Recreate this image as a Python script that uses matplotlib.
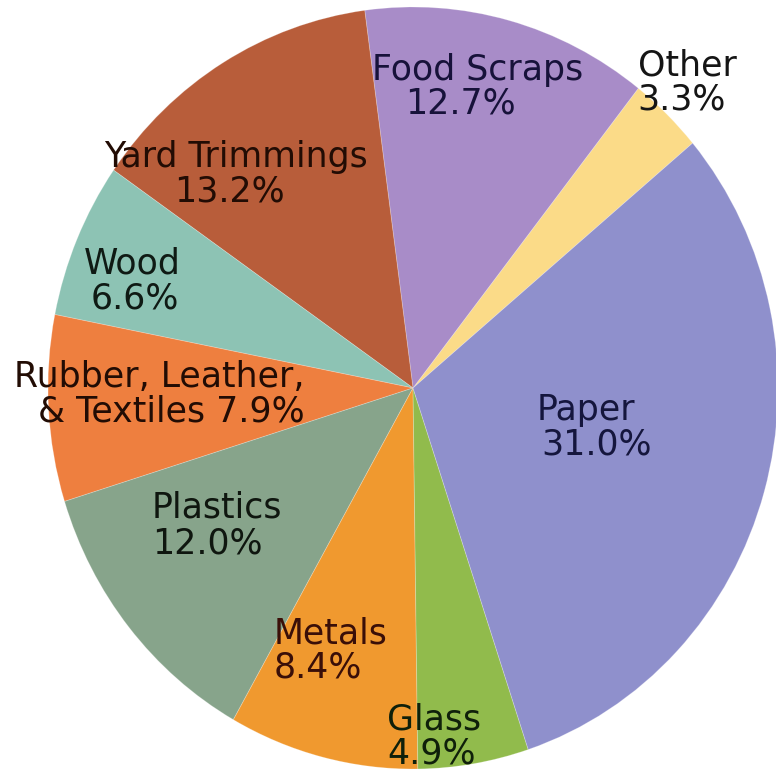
import matplotlib
matplotlib.use("Agg")
import matplotlib.pyplot as plt

# ---- data (counter-clockwise order starting from the Paper/Other boundary) ----
categories = ["Other", "Food Scraps", "Yard Trimmings", "Wood",
              "Rubber, Leather,\n& Textiles", "Plastics", "Metals", "Glass", "Paper"]
values = [3.3, 12.7, 13.2, 6.6, 7.9, 12.0, 8.4, 4.9, 31.0]
colors = ["#FBDB88", "#A88CC8", "#B85D3A", "#8DC3B4", "#EE7F3F",
          "#87A48B", "#F0992F", "#91BB4C", "#8F90CC"]
text_colors = ["#151515", "#17123a", "#220c04", "#0f1a14", "#220c04",
               "#0f160f", "#3a0f08", "#0f200a", "#15163d"]

# ---- layout (pixel positions in a 776x775 image) ----
W, H = 776, 775
cx, cy = 413, 388          # pie centre
rx, ry = 365, 381          # horizontal / vertical radius
start_angle = 40

# per-label line centres x and baselines y (pixels, top-left origin)
line_pos = [
    [(687, 75), (682, 110)],     # Other
    [(478, 80), (460, 113)],     # Food Scraps
    [(236, 167), (229, 202)],    # Yard Trimmings
    [(132, 273), (135, 308)],    # Wood
    [(159, 387), (171, 422)],    # Rubber
    [(217, 518), (207, 553)],    # Plastics
    [(331, 643), (318, 678)],    # Metals
    [(434, 730), (432, 763)],    # Glass
    [(586, 420), (597, 455)],    # Paper
]

fig = plt.figure(figsize=(W / 100, H / 100), dpi=100)
ax = fig.add_axes([0, 0, 1, 1])
ax.pie(values, colors=colors, startangle=start_angle, counterclock=True,
       radius=1.0, center=(0, 0),
       wedgeprops=dict(linewidth=0.6, edgecolor=(1, 1, 1, 0.25)))
ax.set_aspect("auto")
ax.set_xlim(-cx / rx, (W - cx) / rx)
ax.set_ylim(-(H - cy) / ry, cy / ry)
ax.axis("off")

for cat, val, pos, tc in zip(categories, values, line_pos, text_colors):
    pct = f"{val:.1f}%"
    if "\n" in cat:
        first, second = cat.split("\n")
        lines = [first, f"{second} {pct}"]
    else:
        lines = [cat, pct]
    for txt, (px, py) in zip(lines, pos):
        fig.text(px / W, 1 - py / H, txt, ha="center", va="baseline",
                 fontsize=25, color=tc, family="DejaVu Sans")

fig.savefig("out.png", dpi=100, facecolor="white")
